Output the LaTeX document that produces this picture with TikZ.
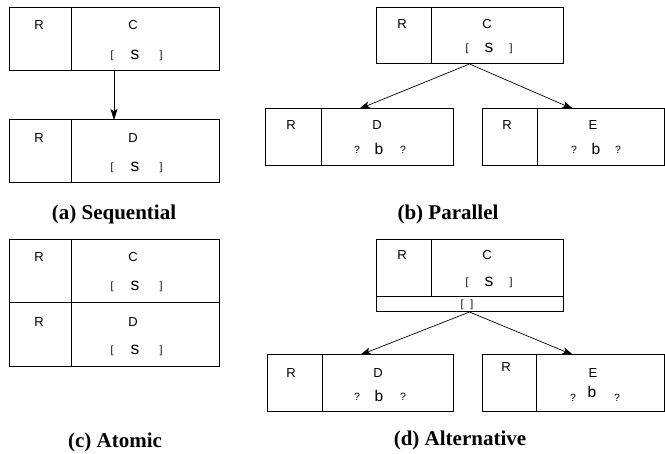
\documentclass[tikz,border=0pt]{standalone}
\usepackage{fontspec}
\setmainfont{Liberation Serif}
\setsansfont{Liberation Sans}
\usetikzlibrary{arrows.meta,positioning}

\tikzset{
  blk/.style={draw, rectangle, line width=1pt, inner sep=0pt, outer sep=0pt, anchor=north west},
  lbl/.style={inner sep=0pt, font=\sffamily\fontsize{13}{13}\selectfont},
  brk/.style={inner sep=0pt, font=\sffamily\fontsize{10.5}{11}\selectfont},
  sym/.style={inner sep=0pt, font=\sffamily\fontsize{17.5}{18}\selectfont},
  symb/.style={inner sep=0pt, font=\sffamily\fontsize{15.5}{16}\selectfont},
  qm/.style={inner sep=0pt, font=\sffamily\fontsize{10.5}{11}\selectfont},
  capt/.style={inner sep=0pt, font=\bfseries\fontsize{21}{24}\selectfont},
  flow/.style={-{Stealth[length=11pt,width=7pt,inset=2.5pt]}, line width=0.7pt}
}

\begin{document}
\begin{tikzpicture}[x=1pt, y=-1pt]
  \useasboundingbox (0,0) rectangle (665,454);

  % (a) sequential
  \node[blk, minimum width=210pt, minimum height=63pt] (seqC) at (9,8) {};
  \node[blk, minimum width=62pt, minimum height=63pt] (seqCl) at (seqC.north west) {};
  \node[lbl] (seqCr) at (39,25) {R};
  \node[lbl] (seqCn) at (133,25) {C};
  \node[brk] (seqCa) at (112,56) {[};
  \node[sym] (seqCs) at (135,55) {s};
  \node[brk] (seqCb) at (161,56) {]};

  \node[blk, minimum width=210pt, minimum height=63pt] (seqD) at (9,120) {};
  \node[blk, minimum width=62pt, minimum height=63pt] (seqDl) at (seqD.north west) {};
  \node[lbl] (seqDr) at (39,138) {R};
  \node[lbl] (seqDn) at (133,138) {D};
  \node[brk] (seqDa) at (112,168) {[};
  \node[sym] (seqDs) at (135,167) {s};
  \node[brk] (seqDb) at (161,168) {]};

  \draw[flow] (seqC) -- (seqD);
  \node[capt] (seqT) at (114,214) {(a) Sequential};

  % (b) parallel
  \node[blk, minimum width=187pt, minimum height=56pt] (parC) at (376,8) {};
  \node[blk, minimum width=55pt, minimum height=56pt] (parCl) at (parC.north west) {};
  \node[lbl] (parCr) at (402,24) {R};
  \node[lbl] (parCn) at (487,24) {C};
  \node[brk] (parCa) at (467,49) {[};
  \node[sym] (parCs) at (489,48) {s};
  \node[brk] (parCb) at (511,49) {]};

  \node[blk, minimum width=188pt, minimum height=57pt] (parD) at (265,109) {};
  \node[blk, minimum width=56pt, minimum height=57pt] (parDl) at (parD.north west) {};
  \node[lbl] (parDr) at (291,125) {R};
  \node[lbl] (parDn) at (377,125) {D};
  \node[qm] (parDa) at (357,150) {?};
  \node[symb] (parDs) at (379,149) {b};
  \node[qm] (parDb) at (403,150) {?};

  \node[blk, minimum width=182.5pt, minimum height=57pt] (parE) at (482,109) {};
  \node[blk, minimum width=55pt, minimum height=57pt] (parEl) at (parE.north west) {};
  \node[lbl] (parEr) at (507,125) {R};
  \node[lbl] (parEn) at (593,125) {E};
  \node[qm] (parEa) at (574,150) {?};
  \node[symb] (parEs) at (596,149) {b};
  \node[qm] (parEb) at (618,150) {?};

  \draw[flow] (parC.south) -- (parD.north);
  \draw[flow] (parC.south) -- (parE.north);
  \node[capt] (parT) at (448,214) {(b) Parallel};

  % (c) atomic
  \node[blk, minimum width=210pt, minimum height=63pt] (atmC) at (9,240) {};
  \node[blk, minimum width=62pt, minimum height=63pt] (atmCl) at (atmC.north west) {};
  \node[lbl] (atmCr) at (39,257) {R};
  \node[lbl] (atmCn) at (133,257) {C};
  \node[brk] (atmCa) at (112,287) {[};
  \node[sym] (atmCs) at (135,286) {s};
  \node[brk] (atmCb) at (161,287) {]};

  \node[blk, minimum width=210pt, minimum height=64pt] (atmD) at (9,303) {};
  \node[blk, minimum width=62pt, minimum height=64pt] (atmDl) at (atmD.north west) {};
  \node[lbl] (atmDr) at (39,322) {R};
  \node[lbl] (atmDn) at (133,322) {D};
  \node[brk] (atmDa) at (112,351) {[};
  \node[sym] (atmDs) at (135,350) {s};
  \node[brk] (atmDb) at (161,351) {]};

  \node[capt] (atmT) at (115,442) {(c) Atomic};

  % (d) alternative
  \node[blk, minimum width=187pt, minimum height=57pt] (altC) at (376,240) {};
  \node[blk, minimum width=55pt, minimum height=57pt] (altCl) at (altC.north west) {};
  \node[lbl] (altCr) at (402,255) {R};
  \node[lbl] (altCn) at (487,255) {C};
  \node[brk] (altCa) at (467,283) {[};
  \node[sym] (altCs) at (489,282) {s};
  \node[brk] (altCb) at (511,283) {]};
  \node[blk, minimum width=187pt, minimum height=15pt] (altG) at (altC.south west) {};
  \node[brk] (altGt) at (467,304.5) {[\hspace{7pt}]};

  \node[blk, minimum width=186pt, minimum height=57pt] (altD) at (267,355) {};
  \node[blk, minimum width=55pt, minimum height=57pt] (altDl) at (altD.north west) {};
  \node[lbl] (altDr) at (291,373) {R};
  \node[lbl] (altDn) at (378,373) {D};
  \node[qm] (altDa) at (357,397) {?};
  \node[symb] (altDs) at (379,396) {b};
  \node[qm] (altDb) at (403,397) {?};

  \node[blk, minimum width=182.5pt, minimum height=57pt] (altE) at (482,355) {};
  \node[blk, minimum width=54pt, minimum height=57pt] (altEl) at (altE.north west) {};
  \node[lbl] (altEr) at (506,367) {R};
  \node[lbl] (altEn) at (593,373) {E};
  \node[qm] (altEa) at (573,398) {?};
  \node[symb] (altEs) at (592,392) {b};
  \node[qm] (altEb) at (617,398) {?};

  \draw[flow] (altG.south) -- (altD.north);
  \draw[flow] (altG.south) -- (altE.north);
  \node[capt] (altT) at (460,440) {(d) Alternative};
\end{tikzpicture}
\end{document}
